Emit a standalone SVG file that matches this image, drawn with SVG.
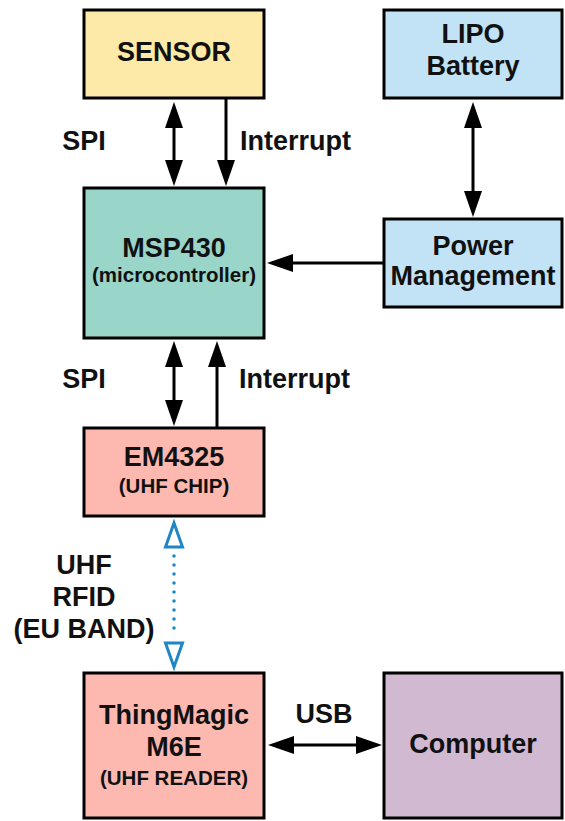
<svg xmlns="http://www.w3.org/2000/svg" width="565" height="821" viewBox="0 0 565 821">
<style>
.box{stroke:#000;stroke-width:3}
.t{font-family:"Liberation Sans",Arial,sans-serif;font-weight:bold;font-size:27px;fill:#111;text-anchor:middle}
.s{font-size:20.5px}
.l{font-family:"Liberation Sans",Arial,sans-serif;font-weight:bold;font-size:27px;fill:#111}
.c{stroke:#000;stroke-width:3;fill:none}
.rf{stroke:#1f86c6;stroke-width:3.5;fill:none;stroke-dasharray:0 9;stroke-linecap:round}
.ot{stroke:#1f86c6;stroke-width:3;fill:#fff}
</style>
<defs>
<marker id="ah" markerUnits="userSpaceOnUse" markerWidth="26" markerHeight="18" refX="16" refY="9" orient="auto-start-reverse" viewBox="0 0 26 18">
<path d="M0,0 L26,9 L0,18 z" fill="#000"/>
</marker>
</defs>
<rect width="565" height="821" fill="#fff"/>
<g id="sensor"><rect class="box" x="84" y="10" width="180" height="88" fill="#fdeaa8"/><text class="t" x="174" y="61">SENSOR</text></g>
<g id="lipo"><rect class="box" x="384" y="10" width="178" height="88" fill="#c2e3f5"/><text class="t" x="473" y="43">LIPO</text><text class="t" x="473" y="75">Battery</text></g>
<g id="msp430"><rect class="box" x="84" y="188" width="180" height="150" fill="#9ad5c9"/><text class="t" x="174" y="257">MSP430</text><text class="t s" x="174" y="282">(microcontroller)</text></g>
<g id="power"><rect class="box" x="384" y="219" width="178" height="88" fill="#c2e3f5"/><text class="t" x="473" y="255">Power</text><text class="t" x="473" y="285">Management</text></g>
<g id="em4325"><rect class="box" x="84" y="428" width="180" height="88" fill="#fdb9b0"/><text class="t" x="174" y="466">EM4325</text><text class="t s" x="174" y="493">(UHF CHIP)</text></g>
<g id="thingmagic"><rect class="box" x="84" y="673" width="180" height="145" fill="#fdb9b0"/><text class="t" x="174" y="724">ThingMagic</text><text class="t" x="174" y="756">M6E</text><text class="t s" x="174" y="785">(UHF READER)</text></g>
<g id="computer"><rect class="box" x="384" y="673" width="178" height="145" fill="#d2b9d2"/><text class="t" x="473" y="753">Computer</text></g>
<g id="connectors">
<line class="c" x1="174" y1="112" x2="174" y2="176" marker-start="url(#ah)" marker-end="url(#ah)"/>
<line class="c" x1="226" y1="98" x2="226" y2="176" marker-end="url(#ah)"/>
<line class="c" x1="473" y1="112" x2="473" y2="207" marker-start="url(#ah)" marker-end="url(#ah)"/>
<line class="c" x1="384" y1="263" x2="277" y2="263" marker-end="url(#ah)"/>
<line class="c" x1="174" y1="351" x2="174" y2="416" marker-start="url(#ah)" marker-end="url(#ah)"/>
<line class="c" x1="217" y1="428" x2="217" y2="351" marker-end="url(#ah)"/>
<line class="c" x1="278" y1="745" x2="372" y2="745" marker-start="url(#ah)" marker-end="url(#ah)"/>
<line class="rf" x1="174" y1="556" x2="174" y2="636"/>
<polygon class="ot" points="174,523 182.5,547 165.5,547"/>
<polygon class="ot" points="174,667 182.5,643 165.5,643"/>
</g>
<g id="labels">
<text class="t" x="84" y="150">SPI</text>
<text class="l" x="240" y="150">Interrupt</text>
<text class="t" x="84" y="388">SPI</text>
<text class="l" x="239" y="388">Interrupt</text>
<text class="t" x="84" y="574">UHF</text>
<text class="t" x="84" y="606">RFID</text>
<text class="t" x="84" y="638">(EU BAND)</text>
<text class="t" x="324" y="723">USB</text>
</g>
</svg>
